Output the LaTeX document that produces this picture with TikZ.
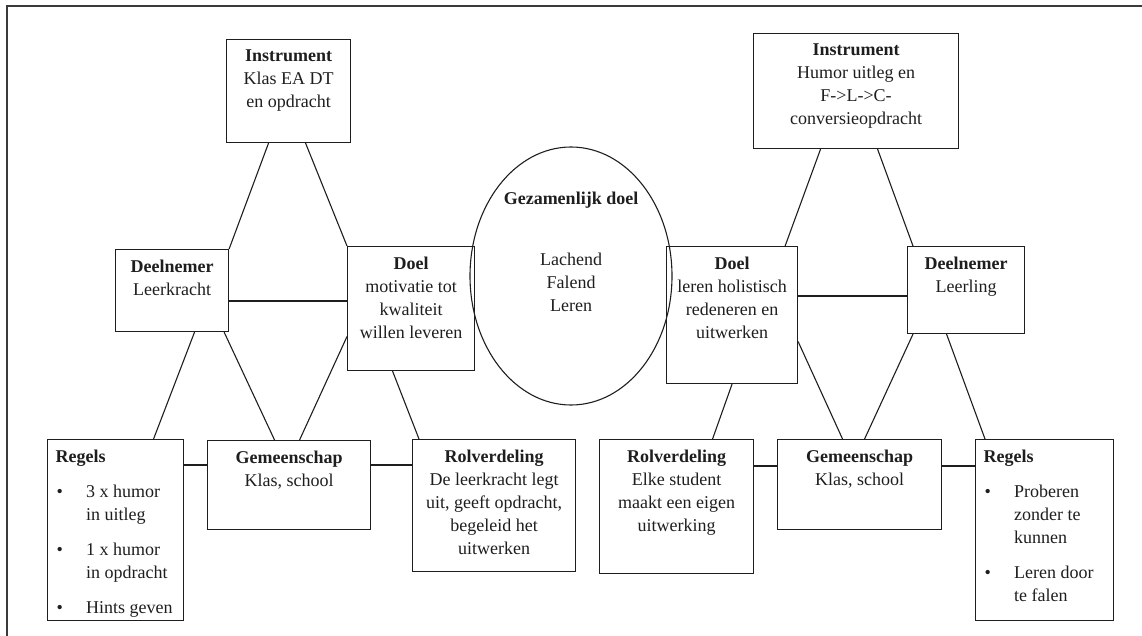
\documentclass[tikz,border=0pt]{standalone}
\usepackage{fontspec}
\setmainfont{Liberation Serif}
\usetikzlibrary{shapes.geometric}
\definecolor{ink}{HTML}{1E1E1E}
\definecolor{rim}{HTML}{3A3A3A}
\newcommand{\cell}[3]{\parbox[c][#2pt][t]{#1pt}{\centering\vspace*{10pt}#3}}
\newcommand{\rulecell}[3]{\parbox[c][#2pt][t]{#1pt}{\raggedright\vspace*{10pt}\hspace*{8pt}\textbf{Regels}#3}}
\newcommand{\regel}[1]{\par\vspace{12pt}\hangindent=38.5pt\hangafter=1\noindent\makebox[38.5pt][l]{\hspace*{9pt}\textbullet}#1}

\begin{document}
\begin{tikzpicture}[x=1pt, y=-1pt, every node/.style={font=\fontsize{18pt}{23pt}\selectfont, text=ink},
      unit/.style={draw=ink, line width=1.1pt, inner sep=0pt, anchor=north west},
      link/.style={draw=ink, line width=1.1pt}]
    \useasboundingbox (0,0) rectangle (1142,636);
    \draw[rim, line width=1.6pt] (7,636) |- (1142,6);
    \node[unit] (instL) at (226,39) {\cell{124}{103}{\textbf{Instrument}\\Klas EA DT\\en opdracht}};
    \node[unit] (deelL) at (115,249) {\cell{113}{82}{\textbf{Deelnemer}\\Leerkracht}};
    \node[unit] (doelL) at (347,246) {\cell{127}{124}{\textbf{Doel}\\motivatie tot\\kwaliteit\\willen leveren}};
    \node[unit] (regL) at (47,439) {\rulecell{136}{181}{\regel{3 x humor\newline in uitleg}\regel{1 x humor\newline in opdracht}\regel{Hints geven}}};
    \node[unit] (gemL) at (207,440) {\cell{163}{89}{\textbf{Gemeenschap}\\Klas, school}};
    \node[unit] (rolL) at (412,439) {\cell{163}{132}{\textbf{Rolverdeling}\\De leerkracht legt\\uit, geeft opdracht,\\begeleid het\\uitwerken}};
    \node[draw=ink, line width=1.1pt, ellipse, minimum width=202pt, minimum height=258pt, inner sep=0pt] (goal) at (571,276)
      {\makebox[0pt]{\raisebox{19.5pt}[0pt][0pt]{\parbox{190pt}{\centering\textbf{Gezamenlijk doel}\\[38pt]Lachend\\Falend\\Leren}}}};
    \node[unit] (instR) at (753,33) {\cell{205}{115}{\textbf{Instrument}\\Humor uitleg en\\F->L->C-\\conversieopdracht}};
    \node[unit] (doelR) at (666,246) {\cell{131}{137}{\textbf{Doel}\\leren holistisch\\redeneren en\\uitwerken}};
    \node[unit] (deelR) at (907,246) {\cell{117}{87}{\textbf{Deelnemer}\\Leerling}};
    \node[unit] (rolR) at (599,439) {\cell{154}{134}{\textbf{Rolverdeling}\\Elke student\\maakt een eigen\\uitwerking}};
    \node[unit] (gemR) at (777,439) {\cell{164}{90}{\textbf{Gemeenschap}\\Klas, school}};
    \node[unit] (regR) at (975,439) {\rulecell{137.5}{181}{\regel{Proberen\newline zonder te\newline kunnen}\regel{Leren door\newline te falen}}};
    \draw[link] ([xshift=-20pt]instL.south) -- (deelL.north east); \draw[link] ([xshift=17pt]instL.south) -- (doelL.north west);
    \draw[link] ([yshift=-52pt]deelL.north east) -- ([yshift=-55pt]doelL.north west);
    \draw[link] ([xshift=22.5pt]deelL.south) -- ([xshift=38pt]regL.north); \draw[link] ([xshift=-5pt]deelL.south east) -- ([xshift=-14.5pt]gemL.north);
    \draw[link] ([yshift=-28pt]doelL.west) -- ([xshift=10.5pt]gemL.north); \draw[link] ([xshift=-18.5pt]doelL.south) -- ([xshift=7pt]rolL.north west);
    \draw[link] ([yshift=-26pt]regL.north east) -- ([yshift=-25pt]gemL.north west); \draw[link] ([yshift=-25pt]gemL.north east) -- ([yshift=-26pt]rolL.north west);
    \draw[link] ([xshift=-35.5pt]instR.south) -- ([xshift=-13pt]doelR.north east); \draw[link] ([xshift=21.5pt]instR.south) -- ([xshift=6pt]deelR.north west);
    \draw[link] ([yshift=-50pt]doelR.north east) -- ([yshift=-50pt]deelR.north west);
    \draw[link] (doelR.south) -- ([xshift=36pt]rolR.north); \draw[link] ([yshift=-26.5pt]doelR.east) -- ([xshift=-17pt]gemR.north);
    \draw[link] ([xshift=6pt]deelR.south west) -- ([xshift=5pt]gemR.north); \draw[link] ([xshift=-19.5pt]deelR.south) -- ([xshift=10pt]regR.north west);
    \draw[link] ([yshift=-27pt]rolR.north east) -- ([yshift=-27pt]gemR.north west); \draw[link] ([yshift=-27pt]gemR.north east) -- ([yshift=-27pt]regR.north west);
  \end{tikzpicture}
\end{document}
